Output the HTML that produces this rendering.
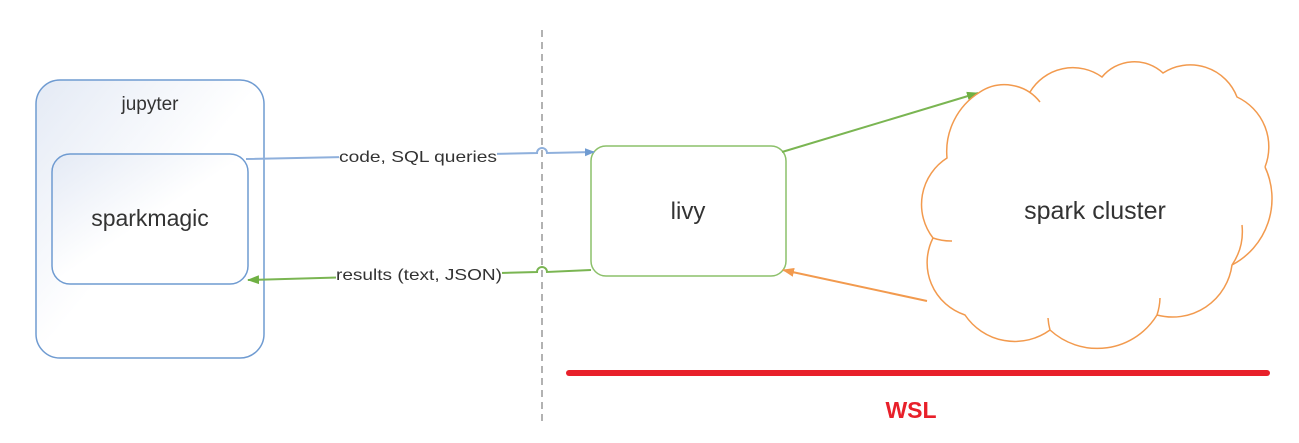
<!DOCTYPE html>
<html><head><style>body{margin:0;background:#fff}svg{display:block}</style></head><body>
<svg width="1299" height="443" viewBox="0 0 1299 443" font-family="Liberation Sans, sans-serif">
<defs>
<linearGradient id="g" x1="0" y1="0" x2="1" y2="1"><stop offset="0" stop-color="#e4eaf5"/><stop offset="0.5" stop-color="#fff"/></linearGradient>
<marker id="ab" markerWidth="10" markerHeight="10" refX="9" refY="5" orient="auto" markerUnits="userSpaceOnUse"><path d="M0,1 L10,5 L0,9 z" fill="#6f9bd1"/></marker>
<marker id="ag" markerWidth="12" markerHeight="10" refX="11" refY="5" orient="auto" markerUnits="userSpaceOnUse"><path d="M0,0.5 L12,5 L0,9.5 z" fill="#6fb043"/></marker>
<marker id="ao" markerWidth="12" markerHeight="10" refX="11" refY="5" orient="auto" markerUnits="userSpaceOnUse"><path d="M0,0.5 L12,5 L0,9.5 z" fill="#f29a4e"/></marker>
</defs>
<line x1="542" y1="30" x2="542" y2="425" stroke="#888" stroke-width="1.3" stroke-dasharray="7,5"/>
<rect x="36" y="80" width="228" height="278" rx="24" fill="url(#g)" stroke="#6f9bd1" stroke-width="1.5"/>
<text x="150" y="110" font-size="19" fill="#333" text-anchor="middle">jupyter</text>
<rect x="52" y="154" width="196" height="130" rx="18" fill="url(#g)" stroke="#6f9bd1" stroke-width="1.5"/>
<text x="150" y="226" font-size="23" fill="#333" text-anchor="middle">sparkmagic</text>
<rect x="591" y="146" width="195" height="130" rx="15" fill="#fff" stroke="#8cc06a" stroke-width="1.5"/>
<text x="688" y="219" font-size="24" fill="#333" text-anchor="middle">livy</text>
<path d="M246,159 L537,153 A5,5 0 0 1 547,153 L594,152" fill="none" stroke="#8fb0dc" stroke-width="2" marker-end="url(#ab)"/>
<rect x="339" y="146" width="158" height="20" fill="#fff"/>
<text x="339" y="162" font-size="16" fill="#333" textLength="158" lengthAdjust="spacingAndGlyphs">code, SQL queries</text>
<path d="M591,270 L547,272 A5,5 0 0 0 537,272 L248,280" fill="none" stroke="#7ab552" stroke-width="2" marker-end="url(#ag)"/>
<rect x="336" y="264" width="166" height="20" fill="#fff"/>
<text x="336" y="280" font-size="16" fill="#333" textLength="166" lengthAdjust="spacingAndGlyphs">results (text, JSON)</text>
<line x1="782" y1="152" x2="978" y2="93" stroke="#7ab552" stroke-width="2" marker-end="url(#ag)"/>
<path d="M980,92 A45,45 0 0 1 1040,102 M1030,92 A50,50 0 0 1 1102,77 A42,42 0 0 1 1163,73 A50,50 0 0 1 1237,97 A55,55 0 0 1 1265,167 M1265,167 A75,75 0 0 1 1232,265 M1242,225 A60,60 0 0 1 1232,265 A60,60 0 0 1 1157,315 M1160,298 A60,60 0 0 1 1157,315 A70,70 0 0 1 1050,330 M1048,318 A60,60 0 0 0 1050,330 A60,60 0 0 1 965,315 A55,55 0 0 1 933,238 M952,241 A55,55 0 0 1 933,238 A55,55 0 0 1 947,158 A70,70 0 0 1 980,92" fill="none" stroke="#f29a4e" stroke-width="1.5"/>
<line x1="927" y1="301" x2="783" y2="270" stroke="#f29a4e" stroke-width="2" marker-end="url(#ao)"/>
<text x="1095" y="219" font-size="25" fill="#333" text-anchor="middle">spark cluster</text>
<line x1="569" y1="373" x2="1267" y2="373" stroke="#e8202a" stroke-width="6" stroke-linecap="round"/>
<text x="911" y="418" font-size="23" font-weight="bold" fill="#e8202a" text-anchor="middle">WSL</text>
</svg>
</body></html>
